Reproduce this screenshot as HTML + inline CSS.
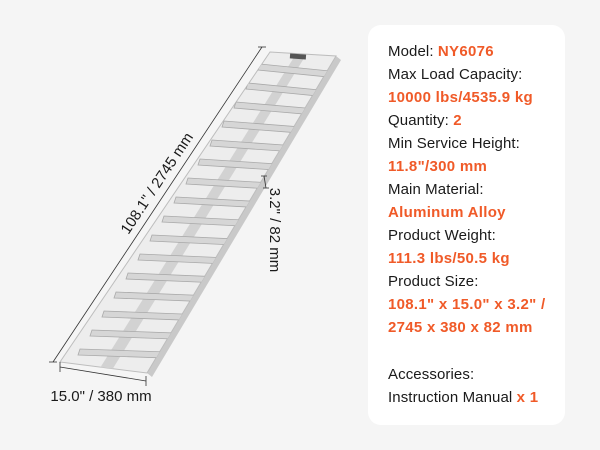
<!DOCTYPE html>
<html><head><meta charset="utf-8"><style>
html,body{margin:0;padding:0}
body{width:600px;height:450px;background:#f5f5f5;position:relative;overflow:hidden;font-family:"Liberation Sans",sans-serif}
.panel{position:absolute;left:368px;top:25px;width:197px;height:400px;background:#fff;border-radius:13px}
.t{position:absolute;left:388px;font-size:15px;color:#1a1a1a;white-space:nowrap;line-height:18px;letter-spacing:0.1px}
.o{color:#f05a28;font-weight:bold;letter-spacing:0.3px}
</style></head><body>
<svg width="360" height="450" style="position:absolute;left:0;top:0" xmlns="http://www.w3.org/2000/svg">
<defs><clipPath id="c"><polygon points="270,52 336,56 147,373 60,362"/></clipPath></defs>
<polygon points="336,56 341,60 152,377 147,373" fill="#c9c9c9"/>
<polygon points="270,52 336,56 147,373 60,362" fill="#ededed" stroke="#bdbdbd" stroke-width="1"/>
<g clip-path="url(#c)">
<polygon points="296,54 306,55 112,370 100,368" fill="#d2d2d2"/>
</g>
<g clip-path="url(#c)" fill="#d6d6d6" stroke="#a9a9a9" stroke-width="0.8">
<polygon points="260,64 340,72 338,78 258,70"/>
<polygon points="248,83 340,92 338,98 246,89"/>
<polygon points="236,102 340,111 338,117 234,108"/>
<polygon points="224,121 340,130 338,136 222,127"/>
<polygon points="212,140 340,149 338,155 210,146"/>
<polygon points="200,159 340,168 338,174 198,165"/>
<polygon points="188,178 340,187 338,193 186,184"/>
<polygon points="176,197 340,206 338,212 174,203"/>
<polygon points="164,216 340,225 338,231 162,222"/>
<polygon points="152,235 340,244 338,250 150,241"/>
<polygon points="140,254 340,263 338,269 138,260"/>
<polygon points="128,273 340,282 338,288 126,279"/>
<polygon points="116,292 340,301 338,307 114,298"/>
<polygon points="104,311 340,320 338,326 102,317"/>
<polygon points="92,330 340,339 338,345 90,336"/>
<polygon points="80,349 340,358 338,364 78,355"/>
</g>
<rect x="290" y="54" width="16" height="5" fill="#555" transform="rotate(4 298 56)"/>
<g stroke="#333" stroke-width="0.8" fill="none">
<line x1="262" y1="47" x2="53" y2="362"/>
<line x1="258" y1="47" x2="266" y2="47"/>
<line x1="49" y1="362" x2="57" y2="362"/>
<line x1="60" y1="367" x2="146" y2="381"/>
<line x1="60" y1="362" x2="60" y2="372"/>
<line x1="146" y1="376" x2="146" y2="386"/>
<line x1="264" y1="176" x2="266" y2="188"/>
<line x1="261" y1="176" x2="267" y2="176"/>
<line x1="263" y1="188" x2="269" y2="188"/>
</g>
<text x="0" y="0" font-family="Liberation Sans, sans-serif" font-size="15" fill="#1a1a1a" text-anchor="middle" transform="translate(161,186) rotate(-56.4)">108.1"  / 2745 mm</text>
<text x="0" y="0" font-family="Liberation Sans, sans-serif" font-size="15" fill="#1a1a1a" text-anchor="middle" transform="translate(270,230) rotate(90)">3.2" / 82 mm</text>
<text x="101" y="401" font-family="Liberation Sans, sans-serif" font-size="15" fill="#1a1a1a" text-anchor="middle">15.0" / 380 mm</text>
</svg>
<div class="panel"></div>
<div class="t" style="top:43px">Model: <span class="o">NY6076</span></div>
<div class="t" style="top:66px">Max Load Capacity:</div>
<div class="t" style="top:89px"><span class="o">10000 lbs/4535.9 kg</span></div>
<div class="t" style="top:112px">Quantity: <span class="o">2</span></div>
<div class="t" style="top:135px">Min Service Height:</div>
<div class="t" style="top:158px"><span class="o">11.8"/300 mm</span></div>
<div class="t" style="top:181px">Main Material:</div>
<div class="t" style="top:204px"><span class="o">Aluminum Alloy</span></div>
<div class="t" style="top:227px">Product Weight:</div>
<div class="t" style="top:250px"><span class="o">111.3 lbs/50.5 kg</span></div>
<div class="t" style="top:273px">Product Size:</div>
<div class="t" style="top:296px"><span class="o">108.1" x 15.0" x 3.2" /</span></div>
<div class="t" style="top:319px"><span class="o">2745 x 380 x 82 mm</span></div>
<div class="t" style="top:366px">Accessories:</div>
<div class="t" style="top:389px">Instruction Manual <span class="o">x 1</span></div>
</body></html>
